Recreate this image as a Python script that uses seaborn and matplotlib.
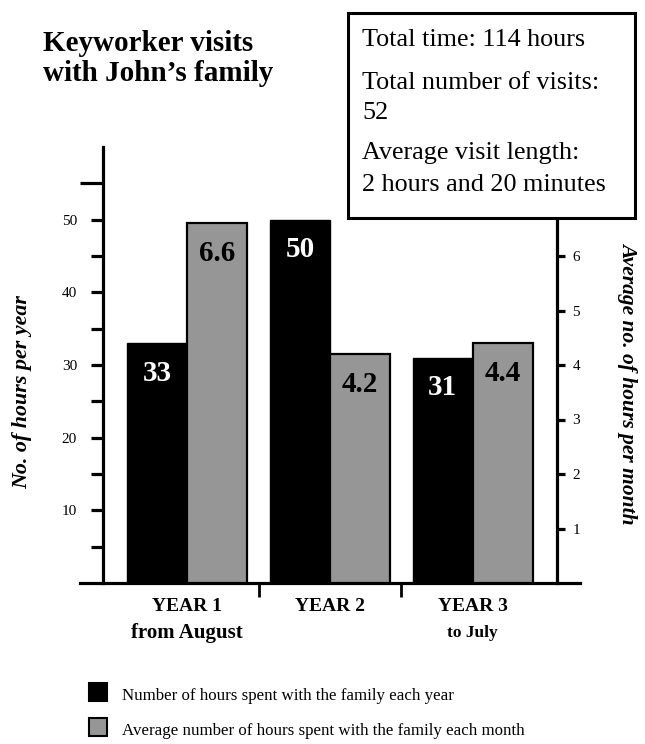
import matplotlib
matplotlib.use("Agg")
import matplotlib.pyplot as plt
from matplotlib.patches import Rectangle
import numpy as np
import seaborn as sns

# chart data
years = ["YEAR 1", "YEAR 2", "YEAR 3"]
year_notes = ["from August", "", "to July"]
hours_per_year = [33, 50, 31]
hours_per_month = [6.6, 4.2, 4.4]
legend_labels = ["Number of hours spent with the family each year",
                 "Average number of hours spent with the family each month"]
info_lines = ["Total time: 114 hours", "Total number of visits:", "52",
              "Average visit length:", "2 hours and 20 minutes"]

BLACK = "#000000"
GREY = "#969696"
W, H = 645, 744

sns.set_theme(style="white")
plt.rcParams["font.family"] = ["Liberation Serif", "DejaVu Serif"]
plt.rcParams.update({"text.color": "black", "axes.labelcolor": "black",
                     "xtick.color": "black", "ytick.color": "black"})

fig = plt.figure(figsize=(W / 100, H / 100), dpi=100)
ax = fig.add_axes([80 / W, 161 / H, 500 / W, 436 / H])
ax2 = ax.twinx()

bar_w = 0.42
pos = np.arange(len(years))
sns.barplot(x=pos - bar_w / 2, y=hours_per_year, native_scale=True, width=bar_w,
            color=BLACK, edgecolor=BLACK, linewidth=1, saturation=1,
            errorbar=None, ax=ax)
sns.barplot(x=pos + bar_w / 2, y=hours_per_month, native_scale=True, width=bar_w,
            color=GREY, edgecolor=BLACK, linewidth=1.6, saturation=1,
            errorbar=None, ax=ax2)

ax.set_xlim(-0.75, 2.75)
ax.set_ylim(0, 60)
ax2.set_ylim(0, 8)
ax.set_xlabel("")
ax.set_ylabel("")
ax2.set_ylabel("")

# value labels inside the bars
for p, v in zip(ax.patches, hours_per_year):
    ax.annotate(f"{v:g}", xy=(p.get_x() + p.get_width() / 2, p.get_height()),
                xytext=(0, -12), textcoords="offset points", ha="center", va="top",
                color="white", fontsize=21, fontweight="bold")
for p, v in zip(ax2.patches, hours_per_month):
    ax2.annotate(f"{v:g}", xy=(p.get_x() + p.get_width() / 2, p.get_height()),
                 xytext=(0, -12), textcoords="offset points", ha="center", va="top",
                 color="black", fontsize=21, fontweight="bold")

# spines
lw = 2.3
for s in ["top", "right"]:
    ax.spines[s].set_visible(False)
for s in ["top", "left", "bottom"]:
    ax2.spines[s].set_visible(False)
ax.spines["left"].set_position(("data", -0.59))
ax.spines["left"].set_bounds(0, 60)
ax2.spines["right"].set_position(("data", 2.59))
ax2.spines["right"].set_bounds(0, 6.7)
for sp in [ax.spines["left"], ax.spines["bottom"], ax2.spines["right"]]:
    sp.set_linewidth(lw)
    sp.set_color("black")

# left ticks
ax.set_yticks(np.arange(5, 55, 5))
ax.set_yticklabels([f"{t}" if t % 10 == 0 else "" for t in range(5, 55, 5)])
ax.set_yticks([55], minor=True)
ax.tick_params(axis="y", which="major", direction="out", length=8.6, width=lw,
               color="black", labelsize=11, pad=10, left=True)
ax.tick_params(axis="y", which="minor", direction="out", length=16.5, width=lw,
               color="black", left=True)

# right ticks
ax2.set_yticks(range(1, 7))
ax2.tick_params(axis="y", which="major", direction="out", length=6, width=lw,
                color="black", labelsize=11, pad=5, right=True)

# x ticks: category labels and group separators
ax.set_xticks(pos)
ax.set_xticklabels(years, fontweight="bold", fontsize=14)
ax.set_xticks([0.5, 1.5], minor=True)
ax.tick_params(axis="x", which="major", length=0, pad=11)
ax.tick_params(axis="x", which="minor", direction="out", length=10, width=2,
               color="black", bottom=True)
for i, note in enumerate(year_notes):
    size = 15 if i == 0 else 12.5
    ax.annotate(note, xy=(i, 0), xycoords=("data", "axes fraction"),
                xytext=(0, -36), textcoords="offset points", ha="center",
                va="center", fontweight="bold", fontsize=size)

# axis titles
fig.text(22 / W, 1 - 392 / H, "No. of hours per year", rotation=90, ha="center",
         va="center", fontsize=15.8, fontweight="bold", fontstyle="italic")
fig.text(628 / W, 1 - 383 / H, "Average no. of hours per month", rotation=270,
         ha="center", va="center", fontsize=15.5, fontweight="bold",
         fontstyle="italic")

# title
fig.text(43 / W, 1 - 30 / H, "Keyworker visits\nwith John\u2019s family", ha="left",
         va="top", fontsize=21, fontweight="bold", linespacing=1.12)

# info box
fig.add_artist(Rectangle((348 / W, 1 - 218 / H), 287 / W, 205 / H,
                         transform=fig.transFigure, facecolor="white",
                         edgecolor="black", linewidth=2.2, zorder=5))
for txt, yc in zip(info_lines, [40, 83, 113, 153, 185]):
    fig.text(362 / W, 1 - yc / H, txt, ha="left", va="center", fontsize=18.8,
             zorder=6)

# legend
for col, lab, yc in zip([BLACK, GREY], legend_labels, [692, 727]):
    fig.add_artist(Rectangle((89 / W, 1 - (yc + 9) / H), 18 / W, 18 / H,
                             transform=fig.transFigure, facecolor=col,
                             edgecolor="black", linewidth=1.5))
    fig.text(122 / W, 1 - (yc + 4) / H, lab, ha="left", va="center", fontsize=12.2)

plt.savefig("out.png", dpi=100)
plt.close()
